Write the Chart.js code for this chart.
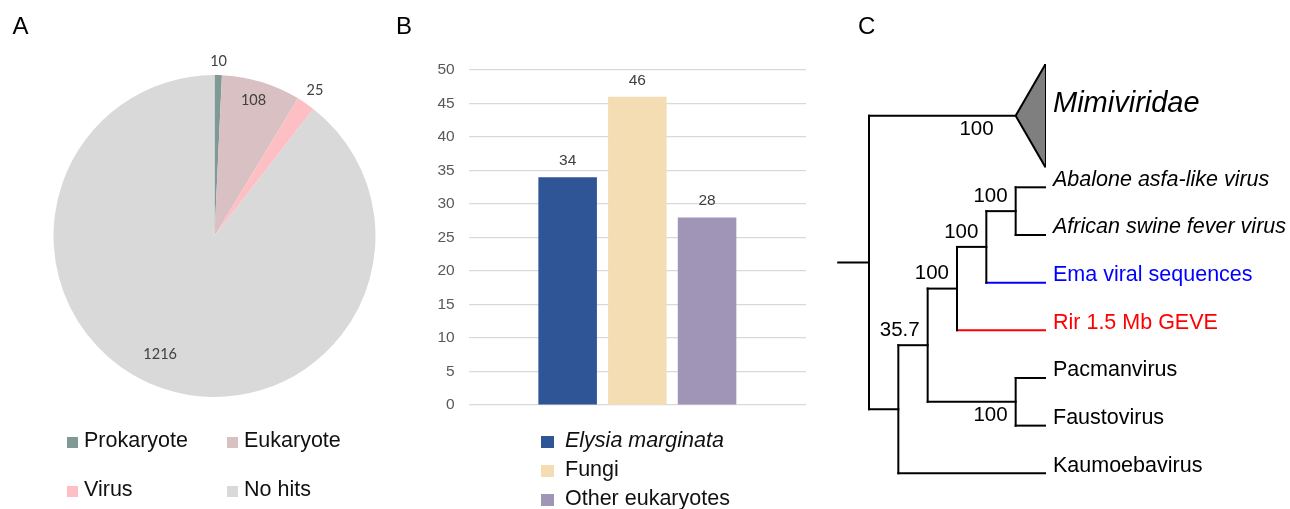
<!DOCTYPE html>
<html>
<head>
<meta charset="utf-8">
<title>Figure</title>
<script src="https://cdn.jsdelivr.net/npm/chart.js@4.4.1/dist/chart.umd.min.js"></script>
<style>
  html, body { margin: 0; padding: 0; background: #fff; }
  body { width: 1290px; height: 509px; position: relative; overflow: hidden; font-family: "Liberation Sans", Arial, sans-serif; }
  canvas { position: absolute; top: 0; }
  .tag { position: absolute; font-size: 24px; line-height: 24px; color: #000; }
  .leg { position: absolute; color: #111; white-space: nowrap; }
  .sw { position: absolute; }
</style>
</head>
<body>
<canvas id="pie" width="400" height="509" style="left:0"></canvas>
<canvas id="bars" width="420" height="509" style="left:400px"></canvas>
<canvas id="tree" width="470" height="509" style="left:820px"></canvas>

<div class="tag" style="left:12.5px;top:13.6px">A</div>
<div class="tag" style="left:396px;top:13.6px">B</div>
<div class="tag" style="left:858px;top:13.6px">C</div>

<script>
// A - hits by origin
const pieLabels = ['Prokaryote', 'Eukaryote', 'Virus', 'No hits'];
const pieValues = [10, 108, 25, 1216];
const pieColors = ['#7f9a94', '#d8c0c3', '#fdbfc3', '#d9d9d9'];

// B - eukaryotic hits
const barLabels = ['Elysia marginata', 'Fungi', 'Other eukaryotes'];
const barValues = [34, 46, 28];
const barColors = ['#2f5597', '#f4ddb3', '#a095b7'];
const barTicks = [0, 5, 10, 15, 20, 25, 30, 35, 40, 45, 50];

// C - tree (cladogram), support values as internal node names
const treeNewick = '((Mimiviridae)100,(((((Abalone asfa-like virus,African swine fever virus)100,Ema viral sequences)100,Rir 1.5 Mb GEVE)100,(Pacmanvirus,Faustovirus)100)35.7,Kaumoebavirus));';
const taxonColors = { 'Ema viral sequences': '#0000ff', 'Rir 1.5 Mb GEVE': '#ff0000' };
const italicTaxa = ['Mimiviridae', 'Abalone asfa-like virus', 'African swine fever virus'];

Chart.defaults.font.family = '"Liberation Sans", Arial, sans-serif';
Chart.defaults.animation = false;

// ---------- legends (html) ----------
function htmlLegend(items, swatch, gap, fontSize) {
    items.forEach(item => {
        const sw = document.createElement('div');
        sw.className = 'sw';
        Object.assign(sw.style, {
            left: item.x + 'px', top: (item.baseline - swatch) + 'px',
            width: swatch + 'px', height: swatch + 'px', background: item.color
        });
        const label = document.createElement('div');
        label.className = 'leg';
        label.textContent = item.text;
        Object.assign(label.style, {
            left: (item.x + swatch + gap) + 'px',
            top: (item.baseline - 0.8465 * fontSize) + 'px',
            fontSize: fontSize + 'px', lineHeight: fontSize + 'px',
            fontStyle: item.italic ? 'italic' : 'normal'
        });
        document.body.appendChild(sw);
        document.body.appendChild(label);
    });
}

// ---------- A: pie ----------
// [fraction along the slice angle, radius factor]
const pieLabelPos = [[0.5, 1.087], [0.47, 0.874], [0.5, 1.1], [0.518, 0.807]];

const pieValueLabels = {
    id: 'pieValueLabels',
    afterDatasetsDraw(chart) {
        const ctx = chart.ctx;
        const ds = chart.data.datasets[0];
        ctx.save();
        ctx.font = '14.5px Lato';
        ctx.fillStyle = '#404040';
        ctx.textAlign = 'center';
        ctx.textBaseline = 'middle';
        chart.getDatasetMeta(0).data.forEach((arc, i) => {
            const p = arc.getProps(['x', 'y', 'startAngle', 'endAngle', 'outerRadius']);
            const [f, r] = pieLabelPos[i];
            const a = p.startAngle + (p.endAngle - p.startAngle) * f;
            ctx.fillText(ds.data[i], p.x + Math.cos(a) * p.outerRadius * r, p.y + Math.sin(a) * p.outerRadius * r);
        });
        ctx.restore();
    }
};

new Chart(document.getElementById('pie'), {
    type: 'pie',
    data: {
        labels: pieLabels,
        datasets: [{ data: pieValues, backgroundColor: pieColors, borderWidth: 0 }]
    },
    options: {
        responsive: false,
        devicePixelRatio: 1,
        layout: { padding: { left: 53.5, top: 75, right: 24.5, bottom: 112 } },
        plugins: { legend: { display: false }, tooltip: { enabled: false } }
    },
    plugins: [pieValueLabels]
});

htmlLegend(pieLabels.map((text, i) => ({
    text, color: pieColors[i],
    x: [66.5, 226.5][i % 2],
    baseline: [448.3, 497][Math.floor(i / 2)]
})), 11.5, 6, 21.5);

// ---------- B: bars ----------
const barValueLabels = {
    id: 'barValueLabels',
    afterDatasetsDraw(chart) {
        const ctx = chart.ctx;
        ctx.save();
        ctx.font = '15.5px "Liberation Sans"';
        ctx.fillStyle = '#404040';
        ctx.textAlign = 'center';
        ctx.textBaseline = 'middle';
        chart.data.datasets.forEach((ds, i) => {
            chart.getDatasetMeta(i).data.forEach((bar, j) => {
                ctx.fillText(ds.data[j], bar.x, bar.y - 16.5);
            });
        });
        ctx.restore();
    }
};

new Chart(document.getElementById('bars'), {
    type: 'bar',
    data: {
        labels: [''],
        datasets: barLabels.map((label, i) => ({
            label, data: [barValues[i]], backgroundColor: barColors[i], borderWidth: 0
        }))
    },
    options: {
        responsive: false,
        devicePixelRatio: 1,
        layout: { padding: { left: 0, top: 70, right: 14, bottom: 104 } },
        datasets: { bar: { categoryPercentage: 0.62, barPercentage: 0.84 } },
        plugins: { legend: { display: false }, tooltip: { enabled: false } },
        scales: {
            x: { display: false },
            y: {
                min: barTicks[0],
                max: barTicks[barTicks.length - 1],
                ticks: { stepSize: barTicks[1] - barTicks[0], padding: 14, color: '#595959', font: { size: 15.5 } },
                grid: { color: '#d9d9d9', lineWidth: 1.2, drawTicks: false },
                border: { display: false },
                afterFit(scale) { scale.width = 68.7; }
            }
        }
    },
    plugins: [barValueLabels]
});

htmlLegend(barLabels.map((text, i) => ({
    text, color: barColors[i], x: 541, baseline: [448, 477, 506][i], italic: i === 0
})), 12.5, 11.5, 21.5);

// ---------- C: tree ----------
function parseNewick(s) {
    let i = 0;
    function readNode() {
        const node = { name: '', children: [] };
        if (s[i] === '(') {
            i++;
            node.children.push(readNode());
            while (s[i] === ',') { i++; node.children.push(readNode()); }
            i++; // ')'
        }
        let label = '';
        while (i < s.length && ',();'.indexOf(s[i]) === -1) label += s[i++];
        node.name = label.trim();
        return node;
    }
    return readNode();
}

const collapsedExtraRows = 0.5;  // collapsed clade takes 1.5 rows
const collapsedSpread = 1.066;   // half height of the triangle, in rows
const rootStub = 1.05;

const treeRoot = parseNewick(treeNewick);
const leaves = [];
const internals = [];
let nextRow = 0;

function place(node, parent) {
    node.parent = parent;
    if (!node.children.length) {
        node.y = nextRow++;
        node.h = 0;
        leaves.push(node);
        return;
    }
    node.children.forEach(c => place(c, node));
    const first = node.children[0];
    const last = node.children[node.children.length - 1];
    node.h = 1 + Math.max(...node.children.map(c => c.h));
    node.y = (first.y + last.y) / 2;
    if (node.children.length === 1) nextRow += collapsedExtraRows;
    internals.push(node);
}
place(treeRoot, null);
const treeDepth = treeRoot.h;
const lastRow = Math.max(...leaves.map(l => l.y));

function setX(node) {
    node.x = treeDepth - node.h;
    node.children.forEach(setX);
}
setX(treeRoot);

const treeDatasets = [];
let treeTop = 0;
function segment(pts, color, extra) {
    treeDatasets.push(Object.assign({
        data: pts.map(([x, y]) => ({ x, y })),
        showLine: true, borderColor: color || '#000', borderWidth: 2,
        pointRadius: 0, clip: false, borderCapStyle: 'square', fill: false
    }, extra));
}

segment([[-rootStub, treeRoot.y], [0, treeRoot.y]]);
function collect(node) {
    if (node.children.length === 1) {
        // collapsed clade: grey triangle, filled between its two slanted edges
        const leaf = node.children[0];
        const top = node.y - collapsedSpread;
        const bottom = node.y + collapsedSpread;
        treeTop = Math.min(treeTop, top);
        segment([[node.x, node.y], [leaf.x, top]], '#000', { borderCapStyle: 'butt' });
        segment([[node.x, node.y], [leaf.x, bottom]], '#000', { borderCapStyle: 'butt', fill: '-1', backgroundColor: '#7f7f7f' });
        segment([[leaf.x, top], [leaf.x, bottom]]);
        return;
    }
    const ys = node.children.map(c => c.y);
    segment([[node.x, Math.min(...ys)], [node.x, Math.max(...ys)]]);
    node.children.forEach(c => {
        segment([[node.x, c.y], [c.x, c.y]], c.children.length ? '#000' : taxonColors[c.name]);
        collect(c);
    });
}
collect(treeRoot);

const treeLabels = {
    id: 'treeLabels',
    afterDatasetsDraw(chart) {
        const { ctx, scales: { x, y } } = chart;
        ctx.save();
        leaves.forEach(leaf => {
            const collapsed = leaf.parent.children.length === 1;
            const size = collapsed ? 29 : 21.5;
            ctx.font = (italicTaxa.includes(leaf.name) ? 'italic ' : '') + size + 'px "Liberation Sans"';
            ctx.fillStyle = taxonColors[leaf.name] || '#000';
            ctx.textAlign = 'left';
            ctx.textBaseline = 'alphabetic';
            ctx.fillText(leaf.name, x.getPixelForValue(leaf.x) + 8, y.getPixelForValue(leaf.y) - (collapsed ? 4 : 1.5));
        });
        ctx.font = '20.5px "Liberation Sans"';
        ctx.fillStyle = '#000';
        ctx.textAlign = 'right';
        ctx.textBaseline = 'middle';
        internals.forEach(node => {
            if (!node.name) return;
            const collapsed = node.children.length === 1;
            const sibs = node.parent.children;
            const below = collapsed || sibs[sibs.length - 1] === node;
            ctx.fillText(node.name,
                x.getPixelForValue(node.x) - (collapsed ? 22 : 8),
                y.getPixelForValue(node.y) + (below ? 14 : -15));
        });
        ctx.restore();
    }
};

new Chart(document.getElementById('tree'), {
    type: 'scatter',
    data: { datasets: treeDatasets },
    options: {
        responsive: false,
        devicePixelRatio: 1,
        layout: { padding: { left: 49, top: 65, right: 245, bottom: 35.7 } },
        plugins: { legend: { display: false }, tooltip: { enabled: false } },
        scales: {
            x: { type: 'linear', min: 0, max: treeDepth, display: false },
            y: { type: 'linear', min: treeTop, max: lastRow, reverse: true, display: false }
        }
    },
    plugins: [treeLabels]
});
</script>
</body>
</html>
